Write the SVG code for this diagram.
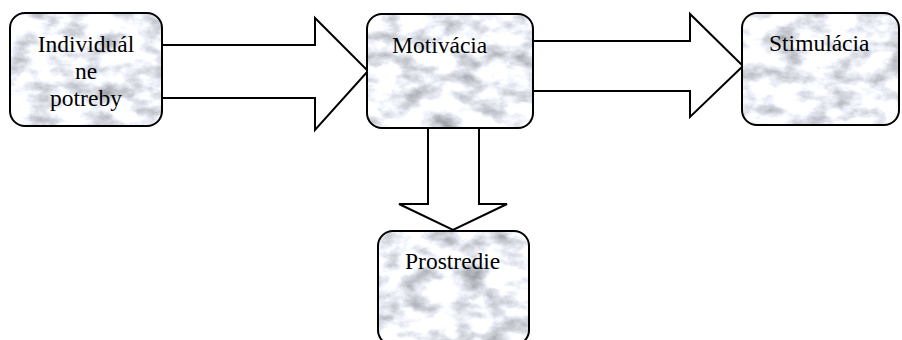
<svg xmlns="http://www.w3.org/2000/svg" width="902" height="340" viewBox="0 0 902 340">
<style>
.node{stroke:#000;stroke-width:2;fill:none}
.fill{fill:#ddd;filter:url(#marble)}
.arrow{fill:#fff;stroke:#000;stroke-width:2;stroke-linejoin:miter}
.t{font-family:'Liberation Serif','Times New Roman',Times,serif;font-size:23.5px;fill:#000}
</style>
<defs>
<filter id="marble" x="0" y="0" width="100%" height="100%" color-interpolation-filters="sRGB">
<feTurbulence type="fractalNoise" baseFrequency="0.035 0.06" numOctaves="5" seed="3" result="t"/>
<feColorMatrix in="t" type="matrix" values="0.75 0 0 0 0.56  0.75 0 0 0 0.57  0.75 0 0 0 0.6  0 0 0 0 1" result="g"/>
<feComposite in="g" in2="SourceAlpha" operator="in"/>
</filter>
</defs>
<rect width="902" height="340" fill="#fff"/>
<g id="connectors">
<polygon class="arrow" points="160,45 315,45 315,18 368,71 315,130 315,98 160,98"/>
<polygon class="arrow" points="531,41 690,41 690,14 743,66 690,117 690,91 531,91"/>
<polygon class="arrow" points="428,126 428,204 399,204 453,230 507,204 479,204 479,126"/>
</g>
<g id="node-individualne">
<rect class="fill" x="10" y="13" width="152" height="113" rx="15"/>
<rect class="node" x="10" y="13" width="152" height="113" rx="15"/>
<text class="t" x="86" y="52" text-anchor="middle">Individuál</text>
<text class="t" x="86" y="79" text-anchor="middle">ne</text>
<text class="t" x="86" y="106" text-anchor="middle">potreby</text>
</g>
<g id="node-motivacia">
<rect class="fill" x="367" y="14" width="166" height="114" rx="15"/>
<rect class="node" x="367" y="14" width="166" height="114" rx="15"/>
<text class="t" x="392" y="53">Motivácia</text>
</g>
<g id="node-stimulacia">
<rect class="fill" x="742" y="13" width="157" height="112" rx="15"/>
<rect class="node" x="742" y="13" width="157" height="112" rx="15"/>
<text class="t" x="769" y="51">Stimulácia</text>
</g>
<g id="node-prostredie">
<rect class="fill" x="378" y="231" width="151" height="114" rx="15"/>
<rect class="node" x="378" y="231" width="151" height="114" rx="15"/>
<text class="t" x="405" y="269">Prostredie</text>
</g>
</svg>
